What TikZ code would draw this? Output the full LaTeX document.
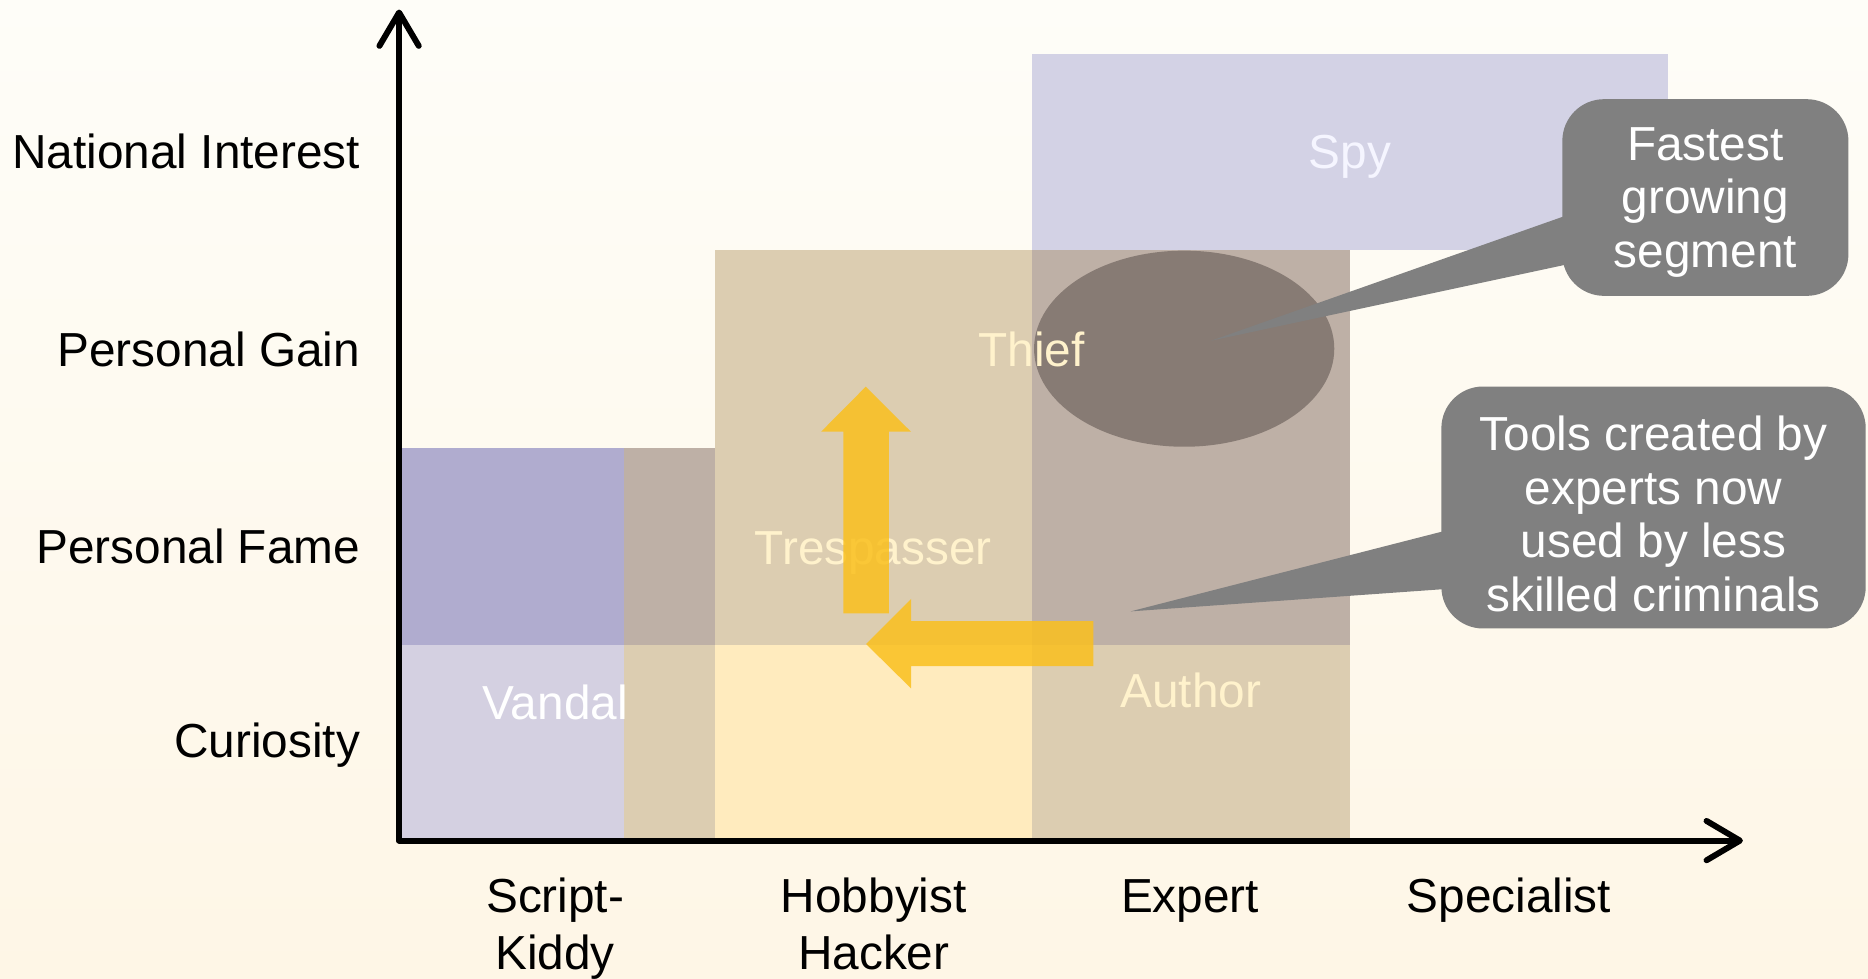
\documentclass[tikz,border=0pt]{standalone}
\usepackage{fontspec}
\setmainfont{Liberation Sans}
\usetikzlibrary{arrows.meta, calc, positioning}

\definecolor{bgTop}{HTML}{FEFDF8}
\definecolor{bgBot}{HTML}{FEF6E6}
\definecolor{lavLight}{HTML}{D4D0E1}
\definecolor{lavDark}{HTML}{B0ACCF}
\definecolor{tanFill}{HTML}{DCCDB1}
\definecolor{greyTan}{HTML}{BEB0A6}
\definecolor{paleYellow}{HTML}{FFEBBE}
\definecolor{spyFill}{HTML}{D3D2E5}
\definecolor{thiefFill}{HTML}{877B74}
\definecolor{arrowGold}{HTML}{FAC01E}
\definecolor{noteGray}{HTML}{808080}
\definecolor{labelCream}{HTML}{FFF2CC}

\tikzset{
  axis/.style={line width=1.42pt, {Straight Barb[length=2.8mm, width=3.3mm, round]}-{Straight Barb[length=2.8mm, width=3.3mm, round]}},
  ylabel/.style={anchor=base east, inner xsep=0pt},
  xlabel/.style={anchor=base, align=center, font=\fontsize{11.4pt}{13.5pt}\selectfont},
  region/.style={anchor=base},
  note/.style={fill=noteGray, text=white, rounded corners=3.5mm, align=center, inner sep=0pt, text depth=0pt},
  bigarrow/.style={fill=arrowGold, fill opacity=0.85}
}

\begin{document}
\begin{tikzpicture}[x=0.01cm, y=-0.01cm, line join=round, every node/.style={font=\fontsize{11.4pt}{12.8pt}\selectfont}]
% Background
\useasboundingbox (0,0) rectangle (1568,821);
\shade[top color=bgTop, bottom color=bgBot] (0,0) rectangle (1568,821);

% Regions
\fill[lavLight] (335,541) rectangle (524,706);
\fill[lavDark] (335,376) rectangle (524,541);
\fill[greyTan] (524,376) rectangle (600,541);
\fill[tanFill] (524,541) rectangle (600,706);
\fill[tanFill] (600,210) rectangle (866.5,541);
\fill[paleYellow] (600,541) rectangle (866.5,706);
\fill[greyTan] (866.5,210) rectangle (1133,541);
\fill[tanFill] (866.5,541) rectangle (1133,706);
\fill[spyFill] (866.5,45) rectangle (1400,210);
\fill[thiefFill] (994,292.7) ellipse [x radius=126, y radius=82.3];

% Region Labels
\node[region, text=white] (vandal) at (466,603.6) {Vandal};
\node[region, text=labelCream] (trespasser) at (733,473.5) {Trespasser};
\node[region, text=labelCream] (thief) at (866,307.8) {Thief};
\node[region, text=labelCream] (author) at (999.5,593.8) {Author};
\node[region, text=white!96!blue] (spy) at (1133,141.3) {Spy};

% Arrows
\fill[bigarrow] (726.7,324.6) -- (764.7,362.4) -- (746.2,362.4) -- (746.2,514.8)
  -- (708,514.8) -- (708,362.4) -- (689.2,362.4) -- cycle;
\fill[bigarrow] (727,540.6) -- (764.7,502.8) -- (764.7,521.3) -- (917.8,521.3)
  -- (917.8,559.1) -- (764.7,559.1) -- (764.7,577.8) -- cycle;

% Axes
\coordinate (yTip) at (335,8);
\coordinate (origin) at (335,705.6);
\coordinate (xTip) at (1463,705.6);
\draw[axis] (yTip) -- (origin) -- (xTip);

% Axis Labels
\node[ylabel] (natInterest) at (303,141.3) {National Interest};
\node[ylabel] (persGain) at (303,307.8) {Personal Gain};
\node[ylabel] (persFame) at (303,472.6) {Personal Fame};
\node[ylabel] (curiosity) at (303,635.7) {Curiosity};
\node[xlabel] (scriptKiddy) at (466,813.5) {Script-\\Kiddy};
\node[xlabel] (hobbyist) at (733.5,813.5) {Hobbyist\\Hacker};
\node[xlabel] (expert) at (999,765.9) {Expert};
\node[xlabel] (specialist) at (1266.5,765.9) {Specialist};

% Callouts
\coordinate (fastTip) at (1016.6,286);
\coordinate (toolsTip) at (949,513.2);
\node[note, minimum width=2.40cm, minimum height=1.65cm] (fastNote) at (1431.5,165.8) {Fastest\\growing\\segment};
\node[note, minimum width=3.56cm, minimum height=2.03cm] (toolsNote) at (1388,426) {\rule{0pt}{11.2pt}Tools created by\\experts now\\used by less\\skilled criminals};
\fill[noteGray] ($(fastNote.west)+(10,13)$) -- (fastTip) -- ($(fastNote.west)+(10,55)$) -- cycle;
\fill[noteGray] ($(toolsNote.west)+(10,18)$) -- (toolsTip) -- ($(toolsNote.west)+(10,68)$) -- cycle;
\end{tikzpicture}
\end{document}
